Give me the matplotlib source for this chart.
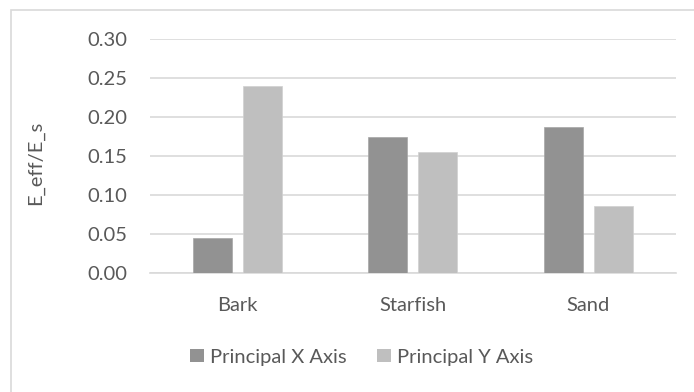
import matplotlib
matplotlib.use("Agg")
import matplotlib.pyplot as plt
from matplotlib.patches import Rectangle, Patch
import numpy as np

plt.rcParams['font.family'] = ['Lato', 'DejaVu Sans']

categories = ["Bark", "Starfish", "Sand"]
series_names = ["Principal X Axis", "Principal Y Axis"]
principal_x = [0.045, 0.175, 0.187]
principal_y = [0.240, 0.155, 0.086]
y_ticks = [0.00, 0.05, 0.10, 0.15, 0.20, 0.25, 0.30]

dark = "#929292"
light = "#BFBFBF"
grid_c = "#D9D9D9"
text_c = "#595959"
fs = 14.5

fig = plt.figure(figsize=(6.94, 3.92), dpi=100)
ax = fig.add_axes([150 / 694, 1 - 272.7 / 392, 525.7 / 694, (272.7 - 39.3) / 392])

x = np.arange(len(categories))
w = 0.2226
off = 0.1427
ax.bar(x - off, principal_x, width=w, color=dark, edgecolor="#A6A6A6", linewidth=0.5, zorder=3)
ax.bar(x + off, principal_y, width=w, color=light, edgecolor="#D0D0D0", linewidth=0.5, zorder=3)

ax.set_xlim(-0.5, len(categories) - 0.5)
ax.set_ylim(0, 0.30)
ax.set_yticks(y_ticks)
ax.set_yticklabels([f"{v:.2f}" for v in y_ticks])
ax.set_xticks(x)
ax.set_xticklabels(categories)
ax.tick_params(axis='both', length=0, labelsize=fs, labelcolor=text_c)
ax.tick_params(axis='y', pad=16.5)
ax.tick_params(axis='x', pad=17.5)
ax.yaxis.grid(True, color=grid_c, linewidth=1.2, zorder=0)
ax.set_axisbelow(True)
for s in ["top", "right", "left"]:
    ax.spines[s].set_visible(False)
ax.spines["bottom"].set_color(grid_c)
ax.spines["bottom"].set_linewidth(1.2)

fig.text(35 / 694, 1 - 163 / 392, "E_eff/E_s", rotation=90, ha="center", va="center",
         fontsize=fs, color=text_c)

# chart area border
fig.add_artist(Rectangle((11 / 694, -0.1), 1.2, 1 - 10 / 392 + 0.1, transform=fig.transFigure,
                         fill=False, edgecolor=grid_c, linewidth=1.2))

handles = [Patch(facecolor=dark, edgecolor="none"), Patch(facecolor=light, edgecolor="none")]
fig.legend(handles, series_names, loc="center", bbox_to_anchor=(361.5 / 694, 1 - 357 / 392),
           ncol=2, frameon=False, fontsize=fs, labelcolor=text_c,
           handlelength=0.68, handleheight=0.68, handletextpad=0.3, columnspacing=1.5)

fig.savefig("out.png", dpi=100)
